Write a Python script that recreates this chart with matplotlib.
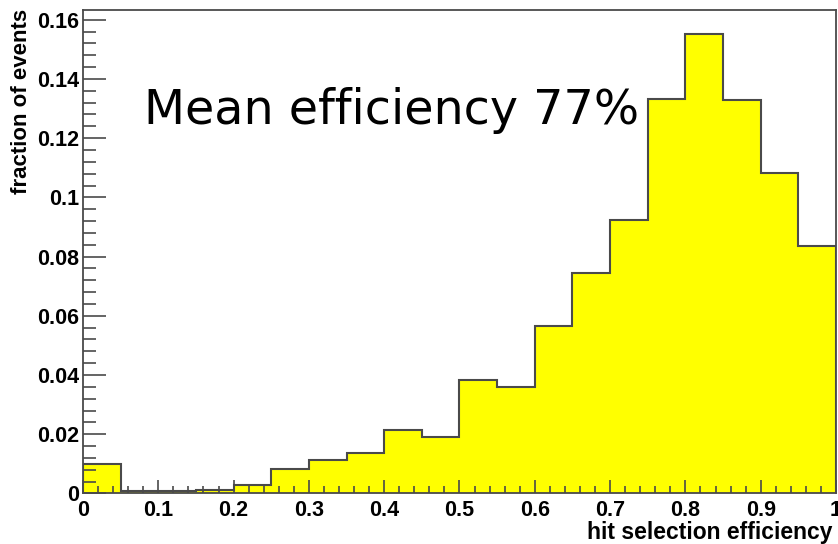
import numpy as np
import matplotlib.pyplot as plt
from matplotlib.ticker import MultipleLocator

# fraccion de eventos por bin (20 bins entre 0 y 1)
bin_edges = np.linspace(0, 1, 21)
fraccion = [0.0098, 0.0007, 0.0007, 0.0011, 0.0029, 0.0081, 0.0113, 0.0135,
            0.0213, 0.0191, 0.0382, 0.0358, 0.0567, 0.0743, 0.0925, 0.1333,
            0.1553, 0.1330, 0.1083, 0.0835]
x_ticks = [0, 0.1, 0.2, 0.3, 0.4, 0.5, 0.6, 0.7, 0.8, 0.9, 1]
x_labels = ["0", "0.1", "0.2", "0.3", "0.4", "0.5", "0.6", "0.7", "0.8", "0.9", "1"]
y_ticks = [0, 0.02, 0.04, 0.06, 0.08, 0.1, 0.12, 0.14, 0.16]
y_labels = ["0", "0.02", "0.04", "0.06", "0.08", "0.1", "0.12", "0.14", "0.16"]

borde = "#4a4a4a"
fuente = "Liberation Sans"

fig = plt.figure(figsize=(8.38, 5.44), dpi=100)
ax = fig.add_axes([0.099, 0.093, 0.8986, 0.8887])

ax.stairs(fraccion, bin_edges, fill=True, color="#ffff00")
ax.stairs(fraccion, bin_edges, color=borde, linewidth=1.5)

ax.set_xlim(0, 1)
ax.set_ylim(0, 0.1633)

ax.set_xticks(x_ticks)
ax.set_xticklabels(x_labels)
ax.set_yticks(y_ticks)
ax.set_yticklabels(y_labels)
ax.xaxis.set_minor_locator(MultipleLocator(0.02))
ax.yaxis.set_minor_locator(MultipleLocator(0.004))

ax.tick_params(axis="both", which="both", direction="in", colors=borde,
               labelcolor="black", width=1.2, top=False, right=False)
ax.tick_params(axis="x", which="major", length=9.5, pad=5)
ax.tick_params(axis="x", which="minor", length=5)
ax.tick_params(axis="y", which="major", length=16.5, pad=3)
ax.tick_params(axis="y", which="minor", length=9)

for lbl in ax.get_xticklabels() + ax.get_yticklabels():
    lbl.set_fontfamily(fuente)
    lbl.set_fontweight("bold")
    lbl.set_fontsize(15.5)

for lado in ax.spines.values():
    lado.set_color(borde)
    lado.set_linewidth(1.3)

ax.set_xlabel("hit selection efficiency", fontfamily=fuente, fontweight="bold",
              fontsize=16.5)
ax.xaxis.set_label_coords(0.995, -0.057)
ax.xaxis.label.set_horizontalalignment("right")
ax.set_ylabel("fraction of events", fontfamily=fuente, fontweight="bold",
              fontsize=16)
ax.yaxis.set_label_coords(-0.068, 1.003)
ax.yaxis.label.set_horizontalalignment("right")

ax.text(0.081, 0.1247, "Mean efficiency 77%", fontfamily="DejaVu Sans",
        fontsize=34.3, color="black", transform=ax.transData)

fig.savefig("out.png", dpi=100)
